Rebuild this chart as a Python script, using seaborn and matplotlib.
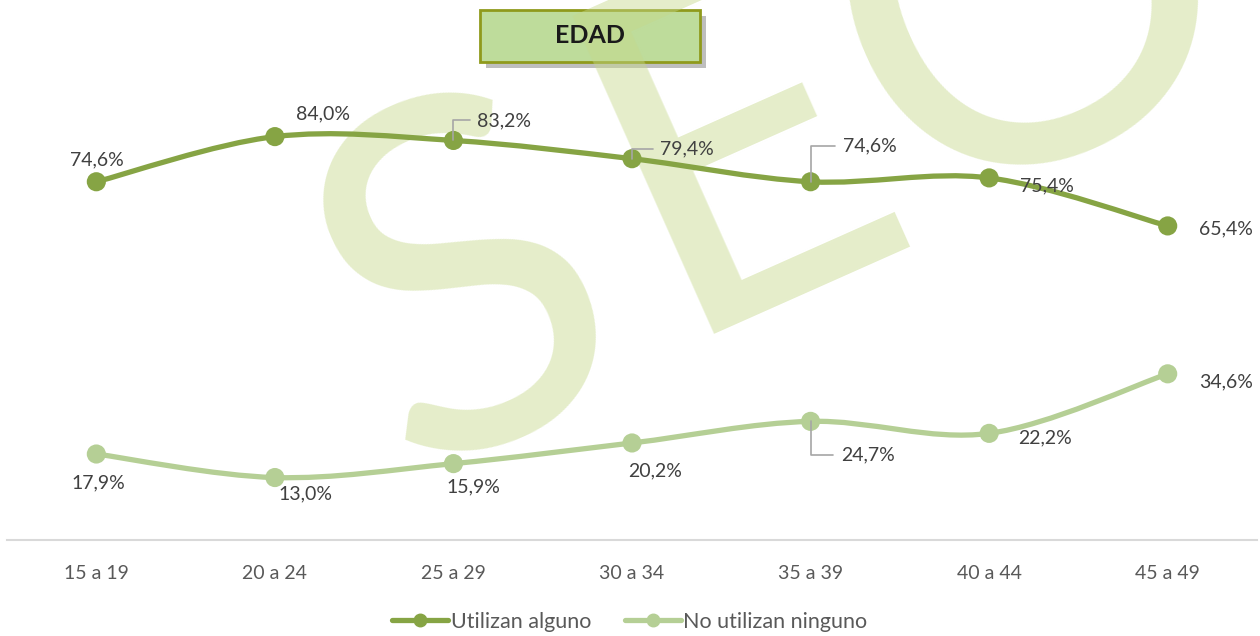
import numpy as np
import pandas as pd
import matplotlib
matplotlib.use("Agg")
import matplotlib.pyplot as plt
import seaborn as sns
from matplotlib.path import Path
from matplotlib.patches import PathPatch, Rectangle
from matplotlib.lines import Line2D
import matplotlib.patheffects as pe

# data
grupos = ["15 a 19", "20 a 24", "25 a 29", "30 a 34", "35 a 39", "40 a 44", "45 a 49"]
utilizan = [74.6, 84.0, 83.2, 79.4, 74.6, 75.4, 65.4]
no_utilizan = [17.9, 13.0, 15.9, 20.2, 24.7, 22.2, 34.6]
series_names = ["Utilizan alguno", "No utilizan ninguno"]

COL_DARK = "#86A444"
COL_LIGHT = "#B5CF95"
TXT = "#404040"

sns.set_theme(style="white")
plt.rcParams["font.family"] = ["Lato", "DejaVu Sans"]

df = pd.DataFrame({
    "grupo": grupos * 2,
    "x": list(range(len(grupos))) * 2,
    "valor": utilizan + no_utilizan,
    "serie": [series_names[0]] * len(grupos) + [series_names[1]] * len(grupos),
})


def smooth_path(xs, ys):
    """Excel-like smoothed line (Catmull-Rom as cubic bezier)"""
    pts = np.column_stack([xs, ys]).astype(float)
    n = len(pts)
    verts = [pts[0]]
    codes = [Path.MOVETO]
    for i in range(n - 1):
        p0 = pts[max(i - 1, 0)]
        p1 = pts[i]
        p2 = pts[i + 1]
        p3 = pts[min(i + 2, n - 1)]
        verts += [p1 + (p2 - p0) / 6, p2 - (p3 - p1) / 6, p2]
        codes += [Path.CURVE4] * 3
    return Path(verts, codes)


fig = plt.figure(figsize=(12.6, 6.36), dpi=100)
ax = fig.add_axes([0.0056, 0.151, 0.992, 0.755])
ax.set_zorder(5)
ax.patch.set_visible(False)

# title box
box = Rectangle((0.381, 0.9025), 0.1746, 0.0818, transform=fig.transFigure,
                facecolor="#BEDC9B", edgecolor="#8F9A1C", linewidth=2, zorder=1,
                path_effects=[pe.SimplePatchShadow(offset=(4, -4), shadow_rgbFace="#7f7f7f", alpha=0.5),
                              pe.Normal()])
fig.patches.append(box)
fig.text(0.381 + 0.0873, 0.9025 + 0.041, "EDAD", ha="center", va="center",
         fontsize=18, fontweight="bold", color="#1a1a1a", zorder=3)

# watermark, one letter at a time (centres in pixels from top-left)
for letra, (px, py) in [("S", (471, 298)), ("E", (742, 151)), ("O", (1035, 10))]:
    fig.text(px / 1260, 1 - py / 636, letra, ha="center", va="center", rotation=24,
             rotation_mode="anchor", fontsize=350, color="#C5D88A", alpha=0.45, zorder=2)

# smoothed lines
for vals, col in [(utilizan, COL_DARK), (no_utilizan, COL_LIGHT)]:
    ax.add_patch(PathPatch(smooth_path(range(len(grupos)), vals), facecolor="none",
                           edgecolor=col, linewidth=3.8, capstyle="round", zorder=2))

sns.scatterplot(data=df, x="x", y="valor", hue="serie", palette=[COL_DARK, COL_LIGHT],
                s=190, edgecolor="none", legend=False, ax=ax, zorder=3)

# label offsets in pixels
off_1 = [(1, 22), (48, 23), (51, 20), (55, 10), (59, 36), (58, -8), (58, -3)]
off_2 = [(2, -29), (31, -16), (20, -23), (23, -28), (57, -34), (56, -5), (58, -8)]
leader_1 = {2, 3, 4}
leader_2 = {4}

for vals, offs, leaders in [(utilizan, off_1, leader_1), (no_utilizan, off_2, leader_2)]:
    for i, v in enumerate(vals):
        label = f"{v:.1f}%".replace(".", ",")
        kw = {}
        if i in leaders:
            kw["arrowprops"] = dict(arrowstyle="-", color="#A6A6A6", lw=1.2,
                                    connectionstyle="angle,angleA=0,angleB=90,rad=0",
                                    relpos=(0, 0.5), shrinkA=3, shrinkB=0)
        ax.annotate(label, xy=(i, v), xytext=offs[i], textcoords="offset pixels",
                    ha="center", va="center", fontsize=14, color=TXT, zorder=4, **kw)

ax.set_xlim(-0.5, len(grupos) - 0.5)
ax.set_ylim(0, 100)
ax.set_xticks(range(len(grupos)))
ax.set_xticklabels(grupos, fontsize=14, color="#595959")
ax.set_yticks([])
ax.set_xlabel("")
ax.set_ylabel("")
ax.tick_params(axis="x", length=0, pad=18)
for side in ["top", "left", "right"]:
    ax.spines[side].set_visible(False)
ax.spines["bottom"].set_color("#D9D9D9")
ax.spines["bottom"].set_linewidth(1.5)

handles = [Line2D([], [], color=c, lw=3.8, marker="o", markersize=9) for c in [COL_DARK, COL_LIGHT]]
fig.legend(handles, series_names, loc="center", bbox_to_anchor=(0.5, 0.022), ncol=2,
           frameon=False, fontsize=15.5, handlelength=2.6, handletextpad=0.1,
           columnspacing=1.6, labelcolor="#595959")

fig.savefig("out.png", dpi=100)
